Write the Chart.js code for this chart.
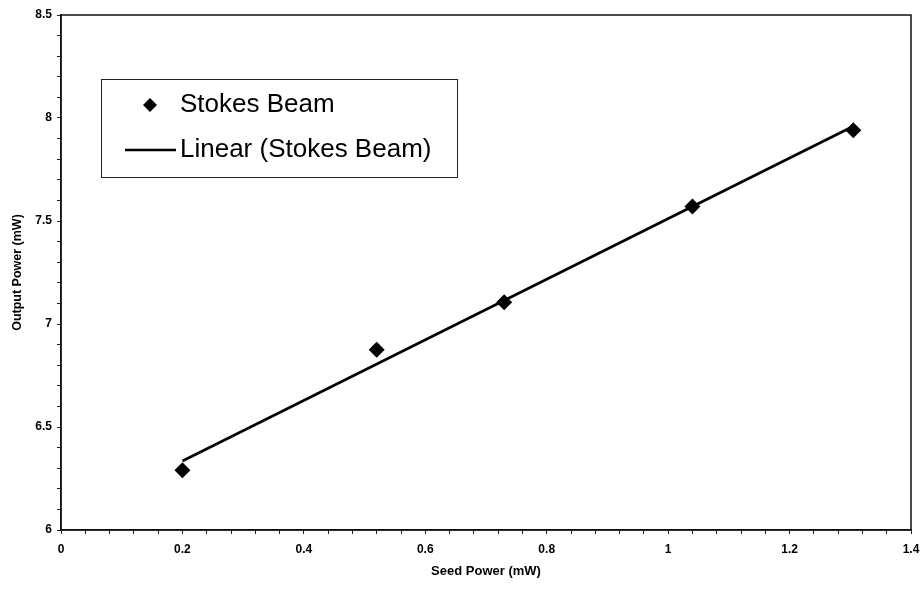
<!DOCTYPE html>
<html>
<head>
<meta charset="utf-8">
<script src="https://cdn.jsdelivr.net/npm/chart.js@4/dist/chart.umd.min.js"></script>
<style>
html,body{margin:0;padding:0;background:#fff;}
#wrap{width:922px;height:589px;}
</style>
</head>
<body>
<div id="wrap"><canvas id="c" width="922" height="589"></canvas></div>
<script>
// ---- data ----
const seedPower = [0.2, 0.52, 0.73, 1.04, 1.305];
const outputPower = [6.29, 6.875, 7.105, 7.57, 7.94];
// Linear trendline endpoints (as drawn in the picture)
const trendSeed = [0.2, 1.305];
const trendOutput = [6.335, 7.96];
// axis ticks
const xMajorTicks = [0, 0.2, 0.4, 0.6, 0.8, 1, 1.2, 1.4];
const xTickLabels = ['0', '0.2', '0.4', '0.6', '0.8', '1', '1.2', '1.4'];
const yMajorTicks = [6, 6.5, 7, 7.5, 8, 8.5];
const yTickLabels = ['6', '6.5', '7', '7.5', '8', '8.5'];
const seriesLabels = ['Stokes Beam', 'Linear (Stokes Beam)'];
const xTitle = 'Seed Power (mW)';
const yTitle = 'Output Power (mW)';

const FONT = "Arial, 'Liberation Sans', Helvetica, sans-serif";
const INK = '#000';

function withMinor(majors, sub) {
  const out = [];
  for (let i = 0; i < majors.length; i++) {
    out.push({value: majors[i]});
    if (i < majors.length - 1) {
      const step = (majors[i + 1] - majors[i]) / sub;
      for (let k = 1; k < sub; k++) out.push({value: majors[i] + step * k});
    }
  }
  return out;
}
function labelFor(v, majors, labels) {
  for (let i = 0; i < majors.length; i++) {
    if (Math.abs(v - majors[i]) < 1e-6) return labels[i];
  }
  return '';
}

const frameAndLegend = {
  id: 'frameAndLegend',
  afterDraw(chart) {
    const ctx = chart.ctx;
    const a = chart.chartArea;
    ctx.save();
    // plot frame
    ctx.strokeStyle = '#111';
    ctx.lineWidth = 1.5;
    ctx.strokeRect(a.left, a.top, a.right - a.left, a.bottom - a.top);

    // legend box inside the plot
    const lx = a.left + 40, ly = a.top + 64, lw = 356, lh = 98;
    ctx.fillStyle = '#fff';
    ctx.fillRect(lx, ly, lw, lh);
    ctx.strokeStyle = '#222';
    ctx.lineWidth = 1;
    ctx.strokeRect(lx + 0.5, ly + 0.5, lw, lh);

    const textX = lx + 79;
    const row1 = ly + 26, row2 = ly + 71;
    // marker sample
    ctx.fillStyle = INK;
    const mx = lx + 49, r = 7;
    ctx.beginPath();
    ctx.moveTo(mx - r, row1);
    ctx.lineTo(mx, row1 - r);
    ctx.lineTo(mx + r, row1);
    ctx.lineTo(mx, row1 + r);
    ctx.closePath();
    ctx.fill();
    // line sample
    ctx.strokeStyle = INK;
    ctx.lineWidth = 2.5;
    ctx.beginPath();
    ctx.moveTo(lx + 24, row2);
    ctx.lineTo(lx + 75, row2);
    ctx.stroke();

    ctx.font = '26px ' + FONT;
    ctx.textBaseline = 'middle';
    ctx.textAlign = 'left';
    ctx.fillStyle = INK;
    ctx.fillText(seriesLabels[0], textX, row1);
    ctx.fillText(seriesLabels[1], textX, row2);
    ctx.restore();
  }
};

new Chart(document.getElementById('c'), {
  type: 'scatter',
  data: {
    datasets: [
      {
        label: seriesLabels[0],
        data: seedPower.map((x, i) => ({x: x, y: outputPower[i]})),
        pointStyle: 'rectRot',
        pointRadius: 8,
        backgroundColor: INK,
        borderColor: INK,
        borderWidth: 0,
        showLine: false
      },
      {
        label: seriesLabels[1],
        data: trendSeed.map((x, i) => ({x: x, y: trendOutput[i]})),
        showLine: true,
        borderColor: INK,
        borderWidth: 2.6,
        pointRadius: 0,
        fill: false
      }
    ]
  },
  options: {
    responsive: false,
    animation: false,
    devicePixelRatio: 1,
    layout: {padding: {left: 0, right: 11, top: 15, bottom: 0}},
    plugins: {legend: {display: false}, tooltip: {enabled: false}},
    scales: {
      x: {
        type: 'linear',
        min: 0,
        max: 1.4,
        afterBuildTicks(s) { s.ticks = withMinor(xMajorTicks, 5); },
        afterFit(s) { s.height = 59; s.paddingLeft = 0; s.paddingRight = 0; },
        ticks: {
          autoSkip: false,
          maxRotation: 0,
          padding: 8,
          color: INK,
          font: {family: FONT, size: 12, weight: 'bold'},
          callback: (v) => labelFor(v, xMajorTicks, xTickLabels)
        },
        grid: {display: true, drawOnChartArea: false, drawTicks: true, tickLength: 4, color: '#222', lineWidth: 1},
        border: {display: true, color: '#111', width: 1.5},
        title: {
          display: true,
          text: xTitle,
          color: INK,
          font: {family: FONT, size: 13, weight: 'bold'},
          padding: {top: 0, bottom: 10}
        }
      },
      y: {
        type: 'linear',
        min: 6,
        max: 8.5,
        afterBuildTicks(s) { s.ticks = withMinor(yMajorTicks, 5); },
        afterFit(s) { s.width = 61; s.paddingTop = 0; s.paddingBottom = 0; },
        ticks: {
          autoSkip: false,
          padding: 5,
          color: INK,
          font: {family: FONT, size: 12, weight: 'bold'},
          callback: (v) => labelFor(v, yMajorTicks, yTickLabels)
        },
        grid: {display: true, drawOnChartArea: false, drawTicks: true, tickLength: 4, color: '#222', lineWidth: 1},
        border: {display: true, color: '#111', width: 1.5},
        title: {
          display: true,
          text: yTitle,
          color: INK,
          font: {family: FONT, size: 12.5, weight: 'bold'},
          padding: {top: 10, bottom: 0}
        }
      }
    }
  },
  plugins: [frameAndLegend]
});
</script>
</body>
</html>
